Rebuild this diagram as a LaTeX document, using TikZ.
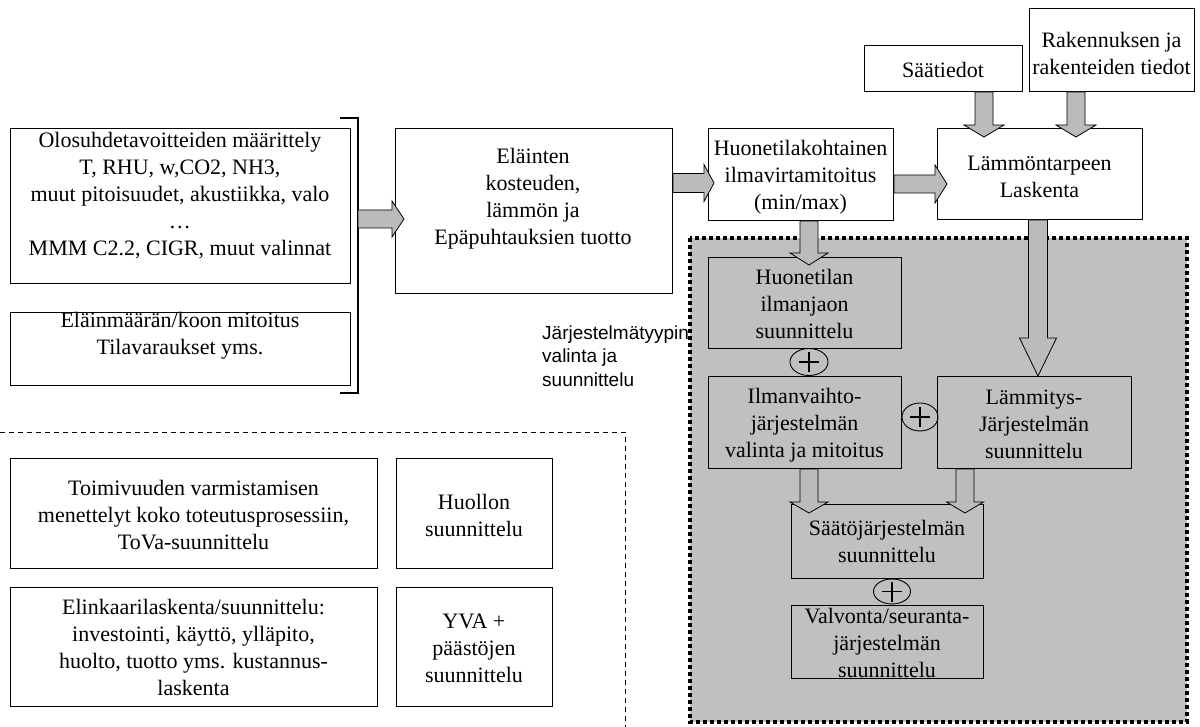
\documentclass[tikz,border=0pt]{standalone}
\usepackage{fontspec}
\setmainfont{Liberation Serif}
\newfontfamily\arialf{Liberation Sans}
\usetikzlibrary{calc,shapes.geometric}
\definecolor{bggray}{HTML}{C0C0C0}
\definecolor{argray}{HTML}{BBBBBB}
\tikzset{
 boxst/.style={draw, line width=1pt, rectangle, inner sep=0pt, anchor=north west},
 txt/.style={align=center, inner sep=0pt, font=\fontsize{22}{27}\selectfont},
 barrow/.style={draw, fill=argray, line width=0.8pt, line join=miter},
 plusst/.style={draw, ellipse, line width=0.9pt, inner sep=0pt,
   path picture={
     \draw[line width=1.1pt] ([xshift=-10pt]path picture bounding box.center) -- ([xshift=10pt]path picture bounding box.center);
     \draw[line width=1.1pt] ([yshift=-10pt]path picture bounding box.center) -- ([yshift=10pt]path picture bounding box.center);}},
 regionst/.style={draw, fill=bggray, line width=4pt, dash pattern=on 4pt off 3pt},
 dashst/.style={line width=0.9pt, dash pattern=on 5pt off 4pt},
}
% horizontal block arrow: start, tip, shaft half, head half, head length
\newcommand{\harr}[5]{%
 \draw[barrow] let \p1=(#1), \p2=(#2) in
  (\x1,\y1+#3pt) -- (\x2-#5pt,\y1+#3pt) -- (\x2-#5pt,\y1+#4pt) -- (\x2,\y1)
  -- (\x2-#5pt,\y1-#4pt) -- (\x2-#5pt,\y1-#3pt) -- (\x1,\y1-#3pt) -- cycle;}
% downward block arrow
\newcommand{\varr}[5]{%
 \draw[barrow] let \p1=(#1), \p2=(#2) in
  (\x1-#3pt,\y1) -- (\x1-#3pt,\y2+#5pt) -- (\x1-#4pt,\y2+#5pt) -- (\x1,\y2)
  -- (\x1+#4pt,\y2+#5pt) -- (\x1+#3pt,\y2+#5pt) -- (\x1+#3pt,\y1) -- cycle;}
\begin{document}
\begin{tikzpicture}[x=1pt,y=-1pt]
\useasboundingbox (0,0) rectangle (1200,727);

% side label (partly covered by region border)
\node[anchor=west, align=left, inner sep=0pt, font=\arialf\fontsize{19}{23.5}\selectfont] (lbl) at (542,356) {Järjestelmätyypin\\valinta ja\\suunnittelu};

% grey system region
\draw[regionst] (690,238) rectangle (1187,722);

% dashed lower-left area
\draw[dashst] (0,432) -- (625,432) -- (625,727);

% bracket
\draw[line width=1.3pt] (340,118) -- (358,118) -- (358,393) -- (340,393);
\coordinate (brk) at (358,219);

% boxes
\node[boxst, minimum width=340pt, minimum height=155pt] (olos) at (10,128) {};
\node[txt] (olosT) at (180,196) {Olosuhdetavoitteiden määrittely\\T, RHU, w,CO2, NH3,\\muut pitoisuudet, akustiikka, valo\\…\\MMM C2.2, CIGR, muut valinnat};
\node[boxst, minimum width=340pt, minimum height=73pt] (elain) at (10,312) {};
\node[txt] (elainT) at (180,336) {Eläinmäärän/koon mitoitus\\Tilavaraukset yms.};

\node[boxst, minimum width=277pt, minimum height=165pt] (elaint) at (395,128) {};
\node[txt] (elaintT) at (533,199) {Eläinten\\kosteuden,\\lämmön ja\\Epäpuhtauksien tuotto};

\node[boxst, minimum width=185pt, minimum height=92pt] (huone) at (708,128) {};
\node[txt] (huoneT) at (800.5,177) {Huonetilakohtainen\\ilmavirtamitoitus\\(min/max)};

\node[boxst, minimum width=205pt, minimum height=91pt] (lamm) at (937,128) {};
\node[txt] (lammT) at (1039.5,176.5) {Lämmöntarpeen\\Laskenta};

\node[boxst, minimum width=158pt, minimum height=46pt] (saat) at (864,45) {};
\node[txt] (saatT) at (943,70) {Säätiedot};

\node[boxst, minimum width=165pt, minimum height=83pt] (rak) at (1029,8) {};
\node[txt] (rakT) at (1111.5,53.5) {Rakennuksen ja\\rakenteiden tiedot};

\node[boxst, minimum width=193pt, minimum height=91pt] (huon2) at (708,257) {};
\node[txt] (huon2T) at (804.5,304) {Huonetilan\\ilmanjaon\\suunnittelu};

\node[boxst, minimum width=193pt, minimum height=92pt] (ilm) at (708,376) {};
\node[txt] (ilmT) at (804.5,425) {Ilmanvaihto-\\järjestelmän\\valinta ja mitoitus};

\node[boxst, minimum width=194pt, minimum height=92pt] (lammit) at (937,376) {};
\node[txt] (lammitT) at (1034,424) {Lämmitys-\\Järjestelmän\\suunnittelu};

\node[boxst, minimum width=192pt, minimum height=74pt] (saato) at (791,504) {};
\node[txt] (saatoT) at (887,541) {Säätöjärjestelmän\\suunnittelu};

\node[boxst, minimum width=192pt, minimum height=73pt] (valv) at (791,605) {};
\node[txt] (valvT) at (887,643) {Valvonta/seuranta-\\järjestelmän\\suunnittelu};

\node[boxst, minimum width=367pt, minimum height=110pt] (toim) at (10,458) {};
\node[txt] (toimT) at (193.5,515) {Toimivuuden varmistamisen\\menettelyt koko toteutusprosessiin,\\ToVa-suunnittelu};

\node[boxst, minimum width=156pt, minimum height=110pt] (huol) at (396,458) {};
\node[txt] (huolT) at (474,515) {Huollon\\suunnittelu};

\node[boxst, minimum width=367pt, minimum height=119pt] (elink) at (10,587) {};
\node[txt] (elinkT) at (193.5,647) {Elinkaarilaskenta/suunnittelu:\\investointi, käyttö, ylläpito,\\huolto, tuotto yms. kustannus-\\laskenta};

\node[boxst, minimum width=156pt, minimum height=119pt] (yva) at (396,587) {};
\node[txt] (yvaT) at (474,648) {YVA +\\päästöjen\\suunnittelu};

% plus symbols
\node[plusst, minimum width=38pt, minimum height=27pt] (p1) at (809,362) {};
\node[plusst, minimum width=36pt, minimum height=28pt] (p2) at (920,417) {};
\node[plusst, minimum width=37pt, minimum height=25pt] (p3) at (892,591.5) {};

% block arrows
\harr{brk}{$(elaint.west |- brk)+(9,0)$}{9}{18}{12}
\harr{elaint.east |- 0,183}{$(huone.west |- 0,183)+(6,0)$}{9.5}{18.5}{10}
\harr{huone.east |- 0,184}{$(lamm.west |- 0,184)+(10,0)$}{9}{19}{12}
\varr{saat.south -| 984,0}{$(lamm.north -| 984,0)+(0,9)$}{9}{20}{12}
\varr{rak.south -| 1076,0}{$(lamm.north -| 1076,0)+(0,9)$}{9}{20}{12}
\varr{huone.south -| 809,0}{$(huon2.north -| 809,0)+(0,8)$}{9}{19}{12}
\varr{lamm.south -| 1038,0}{lammit.north -| 1038,0}{9.5}{18.5}{38}
\varr{ilm.south -| 809,0}{$(saato.north -| 809,0)+(0,9)$}{9}{19}{11}
\varr{lammit.south -| 965,0}{$(saato.north -| 965,0)+(0,9)$}{9}{18.5}{11}
\end{tikzpicture}
\end{document}
